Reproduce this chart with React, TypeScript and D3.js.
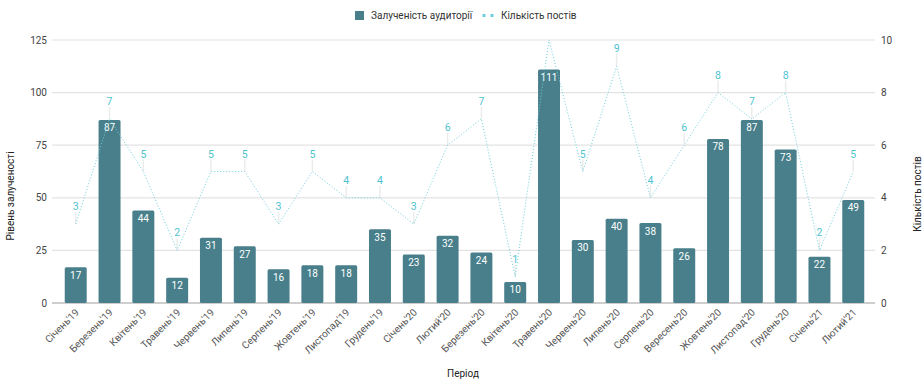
import { useEffect, useRef } from 'react';
import { select, scaleBand, scaleLinear, line } from 'd3';

const width = 923;
const height = 380;

const periods = [
  "Січень'19", "Березень'19", "Квітень'19", "Травень'19", "Червень'19", "Липень'19",
  "Серпень'19", "Жовтень'19", "Листопад'19", "Грудень'19", "Січень'20", "Лютий'20",
  "Березень'20", "Квітень'20", "Травень'20", "Червень'20", "Липень'20", "Серпень'20",
  "Вересень'20", "Жовтень'20", "Листопад'20", "Грудень'20", "Січень'21", "Лютий'21",
];
const engagement = [17, 87, 44, 12, 31, 27, 16, 18, 18, 35, 23, 32, 24, 10, 111, 30, 40, 38, 26, 78, 87, 73, 22, 49];
const posts = [3, 7, 5, 2, 5, 5, 3, 5, 4, 4, 3, 6, 7, 1, 10, 5, 9, 4, 6, 8, 7, 8, 2, 5];
const leftTicks = [0, 25, 50, 75, 100, 125];
const rightTicks = [0, 2, 4, 6, 8, 10];

const barColor = '#487f8b';
const lineColor = '#6dd0dc';
const font = 'Roboto, sans-serif';

export default function App() {
  const ref = useRef<SVGSVGElement>(null);

  useEffect(() => {
    const svg = select(ref.current);
    svg.selectAll('*').remove();

    const x = scaleBand().domain(periods).range([59, 870]).paddingInner(0.35).paddingOuter(0.17);
    const yL = scaleLinear().domain([0, 125]).range([303, 40]);
    const yR = scaleLinear().domain([0, 10]).range([303, 40]);
    const gridX0 = 52;
    const gridX1 = 875;
    const plotTop = 40;

    // gridlines
    svg
      .append('g')
      .selectAll('line')
      .data(leftTicks)
      .join('line')
      .attr('x1', gridX0)
      .attr('x2', gridX1)
      .attr('y1', (d) => yL(d))
      .attr('y2', (d) => yL(d))
      .attr('stroke', (d) => (d === 0 ? '#9e9e9e' : '#e3e3e3'))
      .attr('stroke-width', 1.2);

    // left ticks
    svg
      .append('g')
      .selectAll('text')
      .data(leftTicks)
      .join('text')
      .attr('x', 47)
      .attr('y', (d) => yL(d) + 3.5)
      .attr('text-anchor', 'end')
      .attr('font-size', 10)
      .attr('fill', '#444')
      .text((d) => d);

    // right ticks
    svg
      .append('g')
      .selectAll('text')
      .data(rightTicks)
      .join('text')
      .attr('x', 881)
      .attr('y', (d) => yR(d) + 3.5)
      .attr('font-size', 10)
      .attr('fill', '#444')
      .text((d) => d);

    // bars
    svg
      .append('g')
      .selectAll('rect')
      .data(engagement)
      .join('rect')
      .attr('x', (_, i) => x(periods[i])!)
      .attr('y', (d) => yL(d))
      .attr('width', x.bandwidth())
      .attr('height', (d) => yL(0) - yL(d))
      .attr('rx', 1.5)
      .attr('fill', barColor);

    svg
      .append('g')
      .selectAll('text')
      .data(engagement)
      .join('text')
      .attr('x', (_, i) => x(periods[i])! + x.bandwidth() / 2)
      .attr('y', (d) => yL(d) + 11.5)
      .attr('text-anchor', 'middle')
      .attr('font-size', 10)
      .attr('fill', '#fff')
      .text((d) => d);

    // posts line
    const cx = (i: number) => x(periods[i])! + x.bandwidth() / 2;
    const lineGen = line<number>()
      .x((_, i) => cx(i))
      .y((d) => yR(d));

    // label connectors (labels above the plot top are clipped away)
    const shown = posts.map((d, i) => ({ d, i })).filter((p) => yR(p.d) - 14 > plotTop);

    svg
      .append('g')
      .selectAll('line')
      .data(shown)
      .join('line')
      .attr('x1', (p) => cx(p.i))
      .attr('x2', (p) => cx(p.i))
      .attr('y1', (p) => yR(p.d))
      .attr('y2', (p) => yR(p.d) - 12)
      .attr('stroke', '#ececec')
      .attr('stroke-width', 1.5);

    svg
      .append('path')
      .datum(posts)
      .attr('d', lineGen)
      .attr('fill', 'none')
      .attr('stroke', lineColor)
      .attr('stroke-width', 1)
      .attr('stroke-dasharray', '1,2');

    svg
      .append('g')
      .selectAll('text')
      .data(shown)
      .join('text')
      .attr('x', (p) => cx(p.i))
      .attr('y', (p) => yR(p.d) - 14)
      .attr('text-anchor', 'middle')
      .attr('font-size', 10.5)
      .attr('fill', '#4fc3cf')
      .text((p) => p.d);

    // x labels
    svg
      .append('g')
      .selectAll('text')
      .data(periods)
      .join('text')
      .attr('transform', (d) => `translate(${x(d)! + x.bandwidth() / 2 + 4},${313}) rotate(-45)`)
      .attr('text-anchor', 'end')
      .attr('font-size', 10)
      .attr('fill', '#555')
      .text((d) => d);

    // axis titles
    svg
      .append('text')
      .attr('transform', 'translate(14,196) rotate(-90)')
      .attr('text-anchor', 'middle')
      .attr('font-size', 10)
      .attr('fill', '#222')
      .text('Рівень залученості');
    svg
      .append('text')
      .attr('transform', 'translate(921,194) rotate(-90)')
      .attr('text-anchor', 'middle')
      .attr('font-size', 10)
      .attr('fill', '#222')
      .text('Кількість постів');
    svg
      .append('text')
      .attr('x', 463)
      .attr('y', 377)
      .attr('text-anchor', 'middle')
      .attr('font-size', 10)
      .attr('fill', '#222')
      .text('Період');

    // legend
    const lg = svg.append('g');
    lg.append('rect').attr('x', 355).attr('y', 11).attr('width', 9).attr('height', 9).attr('fill', barColor);
    lg.append('text').attr('x', 371).attr('y', 19).attr('font-size', 10).attr('fill', '#333').text('Залученість аудиторії');
    [484, 492].forEach((dx) =>
      lg.append('rect').attr('x', dx - 1.5).attr('y', 14).attr('width', 3).attr('height', 3).attr('fill', lineColor)
    );
    lg.append('text').attr('x', 501).attr('y', 19).attr('font-size', 10).attr('fill', '#333').text('Кількість постів');
  }, []);

  return (
    <svg
      ref={ref}
      width={width}
      height={height}
      style={{ position: 'absolute', left: 0, top: 0, fontFamily: font, background: '#fff' }}
    />
  );
}
